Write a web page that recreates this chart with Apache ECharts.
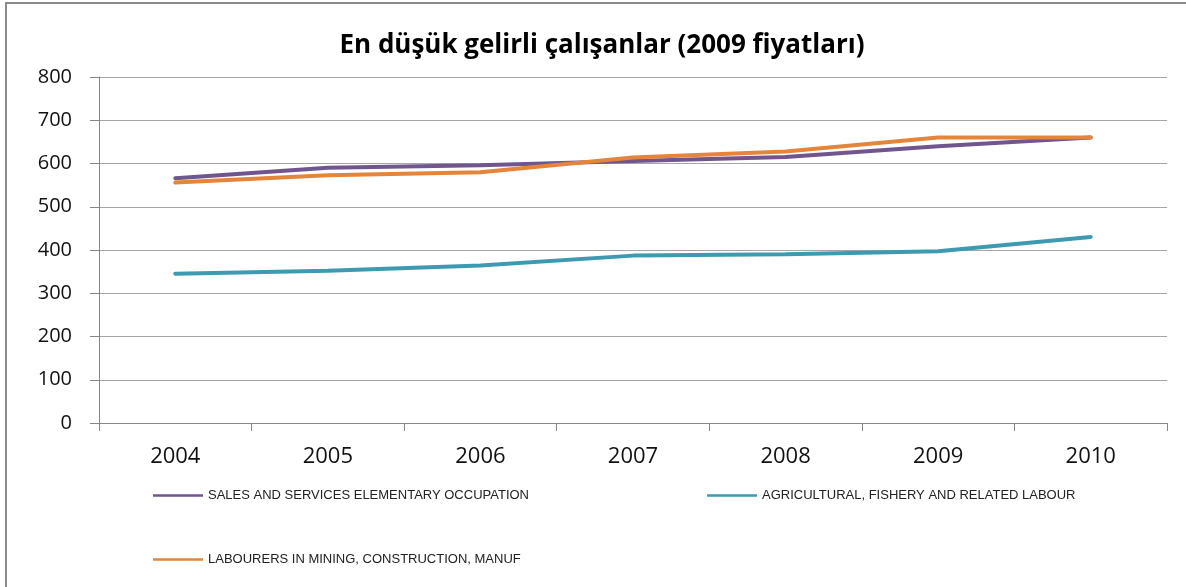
<!DOCTYPE html>
<html>
<head>
<meta charset="utf-8">
<script src="https://cdn.jsdelivr.net/npm/echarts@6/dist/echarts.min.js"></script>
<style>
  html, body { margin: 0; padding: 0; background: #fff; }
  #chart { width: 1186px; height: 587px; }
</style>
</head>
<body>
<div id="chart"></div>
<script>
// yillar ve seriler
var years = ['2004', '2005', '2006', '2007', '2008', '2009', '2010'];
var salesServices = [566, 590, 596, 606, 615, 640, 660];
var agricultural = [345, 352, 364, 387, 390, 397, 430];
var labourers = [556, 573, 580, 614, 628, 660, 660];

var seriesNames = [
    'SALES AND SERVICES ELEMENTARY OCCUPATION',
    'AGRICULTURAL, FISHERY AND RELATED LABOUR',
    'LABOURERS IN MINING, CONSTRUCTION, MANUF'
];
var colors = ['#71558f', '#3e9ab0', '#e5843b'];

var myChart = echarts.init(document.getElementById('chart'));

// her legend ayri konumlanir
function legendAt(name, left, top) {
    return {
        data: [name],
        left: left,
        top: top,
        padding: 0,
        itemWidth: 50,
        itemHeight: 14,
        icon: 'path://M0,6 L50,6 L50,8.5 L0,8.5 Z',
        selectedMode: false,
        textStyle: {
            fontFamily: 'Liberation Sans, Arial, sans-serif',
            fontSize: 13,
            color: '#222'
        }
    };
}

myChart.setOption({
    animation: false,
    color: colors,
    title: {
        text: 'En düşük gelirli çalışanlar (2009 fiyatları)',
        left: 597,
        textAlign: 'center',
        top: 28,
        textStyle: {
            fontFamily: 'Open Sans, sans-serif',
            fontWeight: 'bold',
            fontSize: 26,
            color: '#000'
        }
    },
    graphic: [{
        type: 'rect',
        shape: { x: 6, y: 3, width: 1300, height: 700 },
        style: { fill: null, stroke: '#8a8a8a', lineWidth: 2 },
        silent: true
    }],
    legend: [
        legendAt(seriesNames[0], 153, 489),
        legendAt(seriesNames[1], 707, 489),
        legendAt(seriesNames[2], 153, 553)
    ],
    grid: {
        left: 99,
        right: 19,
        top: 77,
        bottom: 164
    },
    xAxis: {
        type: 'category',
        data: years,
        boundaryGap: true,
        axisLine: { lineStyle: { color: '#868686', width: 1 } },
        axisTick: { show: true, length: 8, lineStyle: { color: '#868686' } },
        axisLabel: {
            margin: 23,
            fontFamily: 'Open Sans, sans-serif',
            fontSize: 22,
            color: '#111'
        }
    },
    yAxis: {
        type: 'value',
        min: 0,
        max: 800,
        interval: 100,
        axisLine: { show: true, lineStyle: { color: '#868686', width: 1 } },
        axisTick: { show: true, length: 9, lineStyle: { color: '#868686' } },
        splitLine: { lineStyle: { color: '#a6a6a6', width: 1 } },
        axisLabel: {
            margin: 27,
            fontFamily: 'Open Sans, sans-serif',
            fontSize: 20,
            color: '#111'
        }
    },
    series: [
        {
            name: seriesNames[0],
            type: 'line',
            data: salesServices,
            showSymbol: false,
            lineStyle: { width: 4, cap: 'round', color: colors[0] }
        },
        {
            name: seriesNames[1],
            type: 'line',
            data: agricultural,
            showSymbol: false,
            lineStyle: { width: 4, cap: 'round', color: colors[1] }
        },
        {
            name: seriesNames[2],
            type: 'line',
            data: labourers,
            showSymbol: false,
            lineStyle: { width: 4, cap: 'round', color: colors[2] }
        }
    ]
});
</script>
</body>
</html>
